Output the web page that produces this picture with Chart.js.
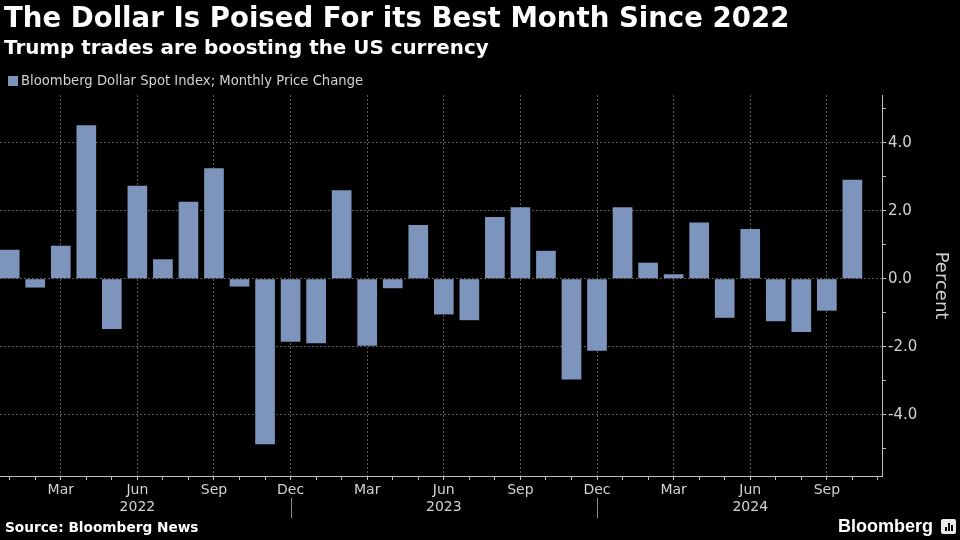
<!DOCTYPE html>
<html><head><meta charset="utf-8">
<script src="https://cdn.jsdelivr.net/npm/chart.js@4/dist/chart.umd.min.js"></script>
<style>
html,body{margin:0;padding:0;background:#000;}
#wrap{position:relative;width:960px;height:540px;overflow:hidden;background:#000;font-family:"DejaVu Sans",sans-serif;}
canvas{position:absolute;left:0;top:0;}
.t{position:absolute;white-space:nowrap;color:#fff;line-height:1;}
#title{left:4px;top:4px;font-weight:bold;font-size:27.6px;}
#sub{left:4px;top:38px;font-weight:bold;font-size:19.9px;}
#legend{left:8px;top:74px;font-size:13.2px;color:#d2d2d2;}
#legend i{display:inline-block;width:10px;height:10px;background:#7d95bd;margin-right:3px;vertical-align:-1px}
#src{left:5px;top:521px;font-weight:bold;font-size:13.7px;}
#logo{left:838px;top:517px;font-weight:bold;font-size:18px;font-family:"Liberation Sans",Arial,sans-serif;}
#icon{position:absolute;left:941px;top:519px;width:15px;height:15px;background:#e8e8e8;border-radius:2px;}
#icon b{position:absolute;bottom:3px;width:2px;background:#000;}
</style></head>
<body>
<div id="wrap">
<canvas id="c" width="960" height="540"></canvas>
<div class="t" id="title">The Dollar Is Poised For its Best Month Since 2022</div>
<div class="t" id="sub">Trump trades are boosting the US currency</div>
<div class="t" id="legend"><i></i>Bloomberg Dollar Spot Index; Monthly Price Change</div>
<div class="t" id="src">Source: Bloomberg News</div>
<div class="t" id="logo">Bloomberg</div>
<div id="icon"><b style="left:4px;height:4px"></b><b style="left:7px;height:8px"></b><b style="left:10px;height:6px"></b></div>
</div>
<script>
// Month axis: Jan 2022 .. Nov 2024 (35 slots)
const monthNames = ['Jan','Feb','Mar','Apr','May','Jun','Jul','Aug','Sep','Oct','Nov','Dec'];
const years = ['2022','2023','2024'];
const categories = [];
years.forEach(y => monthNames.forEach(m => categories.push(m + ' ' + y)));
categories.splice(35);
// Monthly % change, Jan 2022 .. Oct 2024
const values = [
  0.85, -0.26, 0.97, 4.51, -1.48, 2.73, 0.57, 2.26, 3.25, -0.23, -4.87, -1.85,
  -1.90, 2.60, -1.97, -0.28, 1.58, -1.05, -1.22, 1.81, 2.10, 0.82, -2.96, -2.12,
  2.10, 0.47, 0.13, 1.65, -1.15, 1.46, -1.25, -1.57, -0.94, 2.91
];
const yTicks = [-5,-4,-3,-2,-1,0,1,2,3,4,5];
const yLabelled = [-4,-2,0,2,4];
const quarterMonths = ['Mar','Jun','Sep','Dec'];

const FONT = '"DejaVu Sans", sans-serif';
const GRID = '#5a5a5a';
const AXIS = '#bdbdbd';
const TXT = '#d2d2d2';

const yearSep = {
  id: 'yearSep',
  afterDraw(chart) {
    const xs = chart.scales.x, ctx = chart.ctx;
    ctx.save();
    ctx.strokeStyle = '#8a8a8a';
    ctx.lineWidth = 1;
    categories.forEach((c, i) => {
      if (c.startsWith('Dec')) {
        const x = Math.round(xs.getPixelForValue(i)) + 0.5;
        ctx.beginPath(); ctx.moveTo(x, 498); ctx.lineTo(x, 518); ctx.stroke();
      }
    });
    ctx.restore();
  }
};

new Chart(document.getElementById('c'), {
  type: 'bar',
  data: {
    datasets: [{
      label: 'Bloomberg Dollar Spot Index; Monthly Price Change',
      data: values.map((v, i) => ({x: i, y: v})),
      backgroundColor: '#7d95bd',
      borderWidth: 0,
      barPercentage: 0.77,
      categoryPercentage: 1
    }]
  },
  options: {
    responsive: false,
    animation: false,
    devicePixelRatio: 1,
    layout: {padding: {top: 95, left: 0, right: 0, bottom: 0}},
    plugins: {legend: {display: false}, title: {display: false}, tooltip: {enabled: false}},
    scales: {
      x: {
        type: 'linear',
        offset: false,
        min: -0.38, max: 34.16,
        afterBuildTicks: s => { s.ticks = categories.map((c, i) => ({value: i})); },
        afterFit: s => { s.height = 64; },
        ticks: {
          autoSkip: false, maxRotation: 0, color: TXT, padding: 2,
          font: {family: FONT, size: 14},
          callback: v => {
            const c = categories[v]; if (!c) return '';
            const [m, y] = c.split(' ');
            if (m === 'Jun') return [m, y];
            return quarterMonths.includes(m) ? m : '';
          }
        },
        grid: {
          offset: false,
          color: ctx => {
            const c = ctx.tick && categories[ctx.tick.value];
            return c && quarterMonths.includes(c.split(' ')[0]) ? GRID : 'rgba(0,0,0,0)';
          },
          tickColor: AXIS, tickLength: 4, lineWidth: 1
        },
        border: {color: AXIS, dash: [2, 2]}
      },
      y: {
        position: 'right',
        min: -5.8, max: 5.4,
        afterBuildTicks: s => { s.ticks = yTicks.map(v => ({value: v})); },
        afterFit: s => { s.width = 78; },
        ticks: {
          autoSkip: false, color: TXT, padding: 2,
          font: {family: FONT, size: 15},
          callback: v => yLabelled.includes(v) ? v.toFixed(1) : ''
        },
        grid: {
          color: ctx => ctx.tick && yLabelled.includes(ctx.tick.value) ? GRID : 'rgba(0,0,0,0)',
          tickColor: AXIS, tickLength: 4, lineWidth: 1
        },
        border: {color: AXIS, dash: [2, 2]},
        title: {display: true, text: 'Percent', color: TXT, font: {family: FONT, size: 18}, padding: {top: 9, bottom: 4}}
      }
    }
  },
  plugins: [yearSep]
});
</script>
</body></html>
